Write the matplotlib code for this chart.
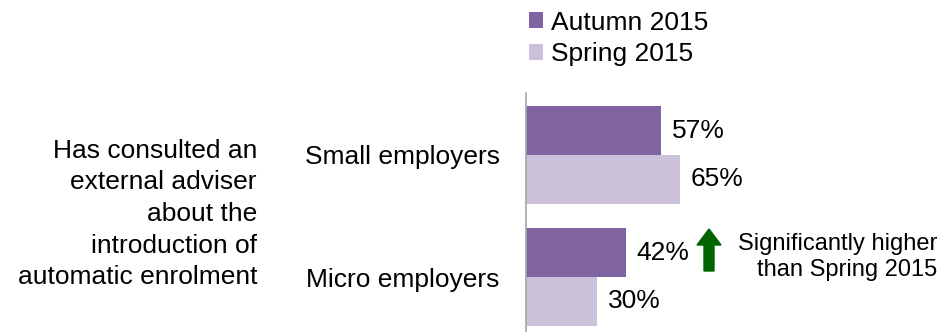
import matplotlib.pyplot as plt
from matplotlib.patches import FancyArrow

plt.rcParams['font.family'] = ['Liberation Sans', 'DejaVu Sans']

# ----------------------------
# Data
# ----------------------------

categories = ["Small employers", "Micro employers"]
autumn_2015 = [57, 42]
spring_2015 = [65, 30]
series_names = ["Autumn 2015", "Spring 2015"]
measure = "Has consulted an\nexternal adviser\nabout the\nintroduction of\nautomatic enrolment"
note = "Significantly higher\nthan Spring 2015"

AUTUMN_COLOR = "#8064A2"
SPRING_COLOR = "#CCC1DA"
FS = 19

# ----------------------------
# Figure
# ----------------------------

fig = plt.figure(figsize=(9.42, 3.32), dpi=100)
ax = fig.add_axes([526 / 942, 0, 237 / 942, 1 - 93 / 332])

bar_h = 0.40
pos = list(range(len(categories)))
ax.barh([p - bar_h / 2 for p in pos], autumn_2015, height=bar_h,
        color=AUTUMN_COLOR, label=series_names[0])
ax.barh([p + bar_h / 2 for p in pos], spring_2015, height=bar_h,
        color=SPRING_COLOR, label=series_names[1])

ax.set_xlim(0, 100)
ax.set_ylim(1 + 55 / 122, -62 / 122)

for i, (a, s) in enumerate(zip(autumn_2015, spring_2015)):
    ax.text(a + 4.5, i - bar_h / 2, f"{a}%", va="center", ha="left", fontsize=FS)
    ax.text(s + 4.5, i + bar_h / 2, f"{s}%", va="center", ha="left", fontsize=FS)

ax.set_yticks(pos)
ax.set_yticklabels(categories, fontsize=FS)
ax.tick_params(axis="y", length=0, pad=19)
ax.set_xticks([])

for side in ["top", "right", "bottom"]:
    ax.spines[side].set_visible(False)
ax.spines["left"].set_color("#A6A6A6")
ax.spines["left"].set_linewidth(1.2)

# row description on the far left
fig.text(257 / 942, 1 - 214 / 332, measure, ha="right", va="center",
         fontsize=FS, linespacing=1.4)

# significance marker next to the micro employers bar
arrow = FancyArrow(709 / 942, 1 - 271 / 332, 0, 42 / 332, width=10 / 942,
                   head_width=24 / 942, head_length=16 / 332,
                   length_includes_head=True, color="#006400",
                   transform=fig.transFigure)
fig.patches.append(arrow)
fig.text(937 / 942, 1 - 257 / 332, note, ha="right", va="center",
         fontsize=17, linespacing=1.2)

# legend above the bars
handles, labels = ax.get_legend_handles_labels()
fig.legend(handles, labels, loc="upper left", bbox_to_anchor=(518 / 942, 1.0),
           frameon=False, fontsize=FS, handlelength=0.55, handleheight=0.55,
           handletextpad=0.3, labelspacing=0.3, borderaxespad=0)

fig.savefig("out.png", dpi=100)
